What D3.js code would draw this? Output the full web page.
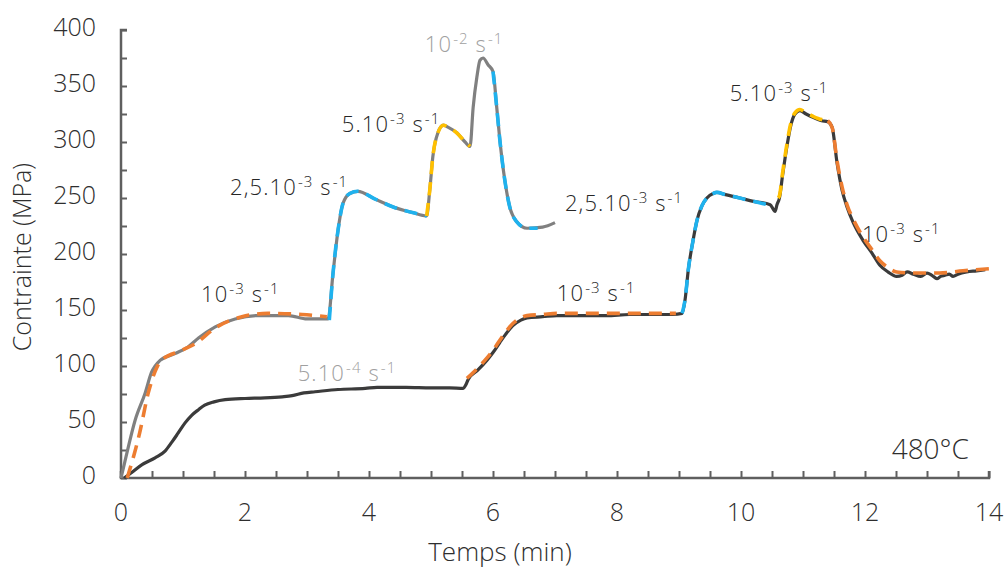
<!DOCTYPE html>
<html><head><meta charset="utf-8">
<script src="https://cdn.jsdelivr.net/npm/d3@7"></script>
<style>
html,body{margin:0;padding:0;background:#fff;}
svg{display:block;font-family:"Open Sans",sans-serif;font-weight:300;}
</style></head>
<body>
<svg id="c" width="1007" height="570"></svg>
<script>
// ---- data (time in min, stress in MPa) ----
const grayT = [0,0.06,0.23,0.39,0.49,0.63,0.87,1.08,1.25,1.52,1.84,2.2,2.7,3.0,3.34,3.42,3.5,3.58,3.69,3.82,4.1,4.39,4.7,4.93,4.98,5.03,5.11,5.2,5.28,5.42,5.55,5.63,5.68,5.74,5.79,5.84,5.92,6.0,6.06,6.11,6.19,6.27,6.38,6.55,6.8,7.0];
const grayS = [0,14,52,76,94,105,111,117,125,135,142,145,145,142,142,183,221,245,254,256,249,242,237,234,257,287,308,315,313,308,300,296,331,358,373,375,369,363,331,302,266,242,229,223,224,228];

const darkT = [0.05,0.15,0.34,0.55,0.71,0.82,0.92,1.03,1.14,1.25,1.35,1.5,1.68,2.0,2.32,2.6,2.76,2.95,3.13,3.5,3.94,4.13,4.6,5.0,5.3,5.52,5.56,5.6,5.75,5.9,6.0,6.11,6.2,6.32,6.45,6.55,6.8,7.03,7.5,7.83,8.2,8.6,8.9,9.05,9.1,9.15,9.22,9.29,9.37,9.45,9.55,9.61,9.75,9.98,10.2,10.47,10.52,10.55,10.58,10.62,10.67,10.74,10.8,10.87,10.95,11.05,11.16,11.3,11.4,11.47,11.55,11.63,11.71,11.81,11.97,12.11,12.24,12.37,12.51,12.6,12.68,12.78,12.9,13.0,13.08,13.16,13.22,13.29,13.36,13.42,13.5,13.64,13.8,13.94];
const darkS = [0,4,12,18,24,32,40,49,56,61,65,68,70,71,71.5,72.5,73.5,76,77,79,80,81,81,80.5,80.5,80,83,88,96,105,112,121,128,136,141,143,144,145,145,145,146,146,146,147,160,186,210,230,243,250,254,255,253,250,247,244,240,238,244,250,270,296,314,325,328,325,322,319,318,313,281,257,242,228,212,201,190,184,180,181,184,182,180,183,181,178,180,181,182,180,182,184,185,186];

// model (dashed) segments: [rate colour key, times, stresses]
const modelRate = ["r1e3","r25e4","r5e3","r25e4","r1e3","r25e4","r5e3","r1e3"];
const modelT = [
  [0.1,0.3,0.44,0.58,0.65,0.98,1.2,1.52,1.95,2.37,2.92,3.32],
  [3.36,3.42,3.5,3.58,3.69,3.82,4.1,4.39,4.7,4.93],
  [4.93,4.98,5.03,5.11,5.2,5.28,5.42,5.55,5.63],
  [6.0,6.06,6.11,6.19,6.27,6.38,6.55,6.72],
  [5.58,5.75,5.9,6.0,6.11,6.2,6.32,6.45,6.55,6.8,7.03,7.5,7.83,8.2,8.6,8.95],
  [9.05,9.1,9.15,9.22,9.29,9.37,9.45,9.55,9.61,9.75,9.98,10.2,10.5],
  [10.6,10.62,10.67,10.74,10.8,10.87,10.95,11.05,11.16,11.3,11.4],
  [11.4,11.47,11.55,11.63,11.71,11.81,11.97,12.11,12.24,12.37,12.51,12.77,13.2,13.58,14.06]
];
const modelS = [
  [0,40,76,99,105,114,120,134,144,147,146,144],
  [141,183,221,245,254,256,249,242,237,234],
  [234,257,287,308,315,313,308,300,296],
  [363,331,302,266,242,229,223,223],
  [89,98,107,114,123,130,138,143,145,146,147,147,147,147,147,147],
  [147,160,186,210,230,243,250,254,255,253,250,247,243],
  [250,252,272,298,316,326,329,326,323,320,319],
  [319,313,283,260,244,231,215,204,194,188,184,183,183,185,187]
];

// annotations: text parts alternate normal / superscript; anchored at (time, stress)
const annoParts = [
  ["10","-3"," s","-1"],
  ["2,5.10","-3"," s","-1"],
  ["5.10","-3"," s","-1"],
  ["10","-2"," s","-1"],
  ["5.10","-4"," s","-1"],
  ["2,5.10","-3"," s","-1"],
  ["10","-3"," s","-1"],
  ["5.10","-3"," s","-1"],
  ["10","-3"," s","-1"]
];
const annoT = [1.29,1.76,3.56,4.9,2.85,7.16,7.03,9.82,11.95];
const annoS = [157,253,309,380,87,238,158,337,211];
const annoTone = ["dark","dark","dark","light","light","dark","dark","dark","dark"];

const xTicks = [0,2,4,6,8,10,12,14];
const yTicks = [0,50,100,150,200,250,300,350,400];
const tempLabel = "480°C";
const tempT = 12.43, tempS = 18;

// ---- drawing ----
const svg = d3.select("#c");
const x = d3.scaleLinear().domain([0,14]).range([121,989]);
const y = d3.scaleLinear().domain([0,400]).range([478,30]);

const rateColor = {r1e3:"#ED7D31", r25e4:"#1FB2EE", r5e3:"#FFC000"};
const axisColor = "#5f5f5f";
const textColor = "#2e2e2e";

// axes
const xAxis = d3.axisBottom(x).tickValues(d3.range(0,14.01,0.5)).tickSize(-7).tickFormat("");
const gx = svg.append("g").attr("transform","translate(0,478)").call(xAxis);
const yAxis = d3.axisLeft(y).tickValues(d3.range(0,400.01,25)).tickSize(-6).tickFormat("");
const gy = svg.append("g").attr("transform","translate(121,0)").call(yAxis);
[gx,gy].forEach(g=>{
  g.select(".domain").attr("stroke",axisColor).attr("stroke-width",2.5);
  g.selectAll(".tick line").attr("stroke",axisColor).attr("stroke-width",2);
});
gy.select(".domain").attr("d","M6,30H0V478");
gx.select(".domain").attr("d","M121,-7V0H989V-7");

// tick labels
svg.append("g").selectAll("text").data(xTicks).join("text")
  .attr("x",d=>x(d)).attr("y",521).attr("text-anchor","middle")
  .attr("font-size",25).attr("fill",textColor).text(d=>d);
svg.append("g").selectAll("text").data(yTicks).join("text")
  .attr("x",96).attr("y",d=>y(d)+6).attr("text-anchor","end")
  .attr("font-size",25).attr("fill",textColor).text(d=>d);

// axis titles
svg.append("text").attr("x",500).attr("y",561).attr("text-anchor","middle")
  .attr("font-size",26).attr("fill",textColor).text("Temps (min)");
svg.append("text").attr("transform","translate(31,257) rotate(-90)").attr("text-anchor","middle")
  .attr("font-size",25).attr("fill",textColor).text("Contrainte (MPa)");

// curves
const line = d3.line().x(d=>x(d[0])).y(d=>y(d[1])).curve(d3.curveMonotoneX);
svg.append("path").datum(grayT.map((t,i)=>[t,grayS[i]])).attr("d",line)
  .attr("fill","none").attr("stroke","#808080").attr("stroke-width",3.2).attr("stroke-linejoin","round");
svg.append("path").datum(darkT.map((t,i)=>[t,darkS[i]])).attr("d",line)
  .attr("fill","none").attr("stroke","#3b3b3b").attr("stroke-width",3.2).attr("stroke-linejoin","round");

modelT.forEach((ts,k)=>{
  svg.append("path").datum(ts.map((t,i)=>[t,modelS[k][i]])).attr("d",line)
    .attr("fill","none").attr("stroke",rateColor[modelRate[k]]).attr("stroke-width",3.6)
    .attr("stroke-dasharray","13,8");
});

// annotations
annoParts.forEach((parts,k)=>{
  const t = svg.append("text").attr("x",x(annoT[k])).attr("y",y(annoS[k]))
    .attr("font-size",22).attr("letter-spacing",1.1)
    .attr("fill",annoTone[k]==="dark"?"#262626":"#a0a0a0");
  parts.forEach((p,j)=>{
    const sup = j%2===1;
    t.append("tspan").attr("font-size",sup?15:22)
      .attr("dy",sup?-8:(j>0?8:0)).attr("dx",sup?1:0).text(p);
  });
});
svg.append("text").attr("x",x(tempT)).attr("y",y(tempS)+1).attr("font-size",28)
  .attr("fill",textColor).text(tempLabel);
</script>
</body></html>
